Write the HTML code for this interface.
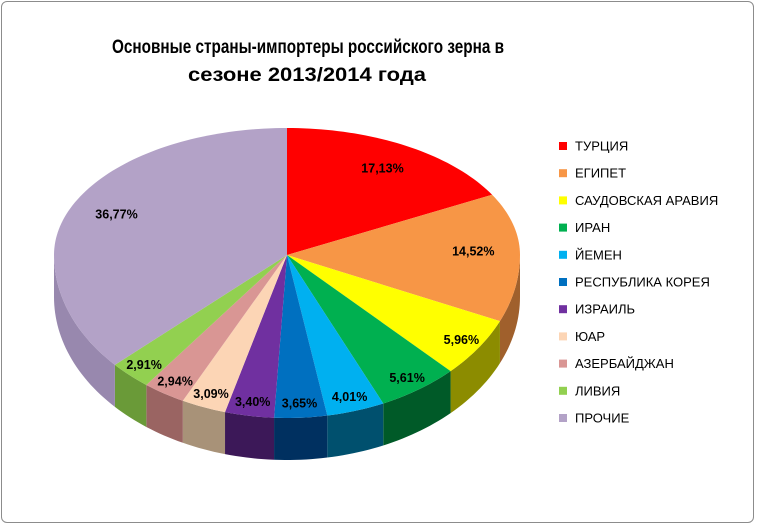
<!DOCTYPE html>
<html><head><meta charset="utf-8"><style>
body{margin:0;background:#fff;font-family:"Liberation Sans",Arial,sans-serif}
#wrap{position:relative;width:757px;height:526px;overflow:hidden}
.frame{position:absolute;left:1px;top:1px;width:753px;height:522px;border:1px solid #8c8c8c;border-radius:6px;box-sizing:border-box}
</style></head><body>
<div id="wrap">
<div class="frame"></div>
<svg id="svg" width="757" height="526" style="position:absolute;left:0;top:0">
<text x="308" y="53" text-anchor="middle" font-size="19" font-weight="bold" fill="#000" textLength="392" lengthAdjust="spacingAndGlyphs">Основные страны-импортеры российского зерна в</text>
<text x="307" y="81" text-anchor="middle" font-size="19" font-weight="bold" fill="#000" textLength="238" lengthAdjust="spacingAndGlyphs">сезоне 2013/2014 года</text>
<g id="sides"></g><g id="tops"></g><g id="labels"></g><g id="legend"></g>
</svg>
</div>
<script>
const categories = ["ТУРЦИЯ","ЕГИПЕТ","САУДОВСКАЯ АРАВИЯ","ИРАН","ЙЕМЕН","РЕСПУБЛИКА КОРЕЯ","ИЗРАИЛЬ","ЮАР","АЗЕРБАЙДЖАН","ЛИВИЯ","ПРОЧИЕ"];
const values = [17.13,14.52,5.96,5.61,4.01,3.65,3.40,3.09,2.94,2.91,36.77];
const valueLabels = ["17,13%","14,52%","5,96%","5,61%","4,01%","3,65%","3,40%","3,09%","2,94%","2,91%","36,77%"];
const colors = ["#FF0000","#F79646","#FFFF00","#00B050","#00B0F0","#0070C0","#7030A0","#FCD5B5","#D99694","#92D050","#B3A2C7"];
const sideColors = ["#990000","#A0602C","#8C8C00","#005A28","#00506E","#003060","#3C1858","#A89278","#9A6462","#6A9A38","#9888AE"];
const NS="http://www.w3.org/2000/svg";
const cx=287, cy=255, rx=233, ryUp=127, ryDown=163, depth=42;
function px(t){return cx+rx*Math.cos(t);}
function py(t){const s=Math.sin(t);return cy+(s<0?ryUp:ryDown)*s;}
const total=values.reduce((a,b)=>a+b,0);
function ang(v){return -Math.PI/2+v/total*2*Math.PI;}
const sides=document.getElementById('sides'),tops=document.getElementById('tops'),labels=document.getElementById('labels'),legend=document.getElementById('legend');
let cum=0;
values.forEach((v,i)=>{
  const a0=ang(cum), a1=ang(cum+v);
  let d=`M${cx},${cy}`;
  const n=Math.max(4,Math.ceil((a1-a0)*40));
  for(let k=0;k<=n;k++){const t=a0+(a1-a0)*k/n;d+=`L${px(t).toFixed(2)},${py(t).toFixed(2)}`;}
  d+='Z';
  const p=document.createElementNS(NS,'path');
  p.setAttribute('d',d);p.setAttribute('fill',colors[i]);
  
  
  tops.appendChild(p);
  [[0,Math.PI],[2*Math.PI,3*Math.PI]].forEach(r=>{
    const s0=Math.max(a0,r[0]), s1=Math.min(a1,r[1]);
    if(s1>s0){
      let sd='';const m=Math.max(4,Math.ceil((s1-s0)*40));
      for(let k=0;k<=m;k++){const t=s0+(s1-s0)*k/m;sd+=(k?'L':'M')+px(t).toFixed(2)+','+py(t).toFixed(2);}
      for(let k=m;k>=0;k--){const t=s0+(s1-s0)*k/m;sd+='L'+px(t).toFixed(2)+','+(py(t)+depth).toFixed(2);}
      sd+='Z';
      const sp=document.createElementNS(NS,'path');
      sp.setAttribute('d',sd);sp.setAttribute('fill',sideColors[i]);
      
      
      sides.appendChild(sp);
    }
  });
  const tm=ang(cum+v/2), f=v>10?0.8:0.91;
  const lx=cx+rx*Math.cos(tm)*f;
  const s=Math.sin(tm);const ly=cy+(s<0?ryUp:ryDown)*s*f;
  const tx=document.createElementNS(NS,'text');
  tx.setAttribute('x',lx.toFixed(1));tx.setAttribute('y',(ly+4.5).toFixed(1));
  tx.setAttribute('text-anchor','middle');tx.setAttribute('font-size','12.5');tx.setAttribute('font-weight','bold');
  tx.textContent=valueLabels[i];
  
  
  labels.appendChild(tx);
  const ly0=146+i*27.2;
  const r=document.createElementNS(NS,'rect');
  r.setAttribute('x',559);r.setAttribute('y',ly0-4);r.setAttribute('width',8);r.setAttribute('height',8);r.setAttribute('fill',colors[i]);
  
  
  legend.appendChild(r);
  const lt=document.createElementNS(NS,'text');
  lt.setAttribute('x',575);lt.setAttribute('y',ly0+4.5);lt.setAttribute('font-size','13');lt.setAttribute('fill','#000');
  lt.textContent=categories[i];
  
  
  legend.appendChild(lt);
  cum+=v;
});
</script>
</body></html>
